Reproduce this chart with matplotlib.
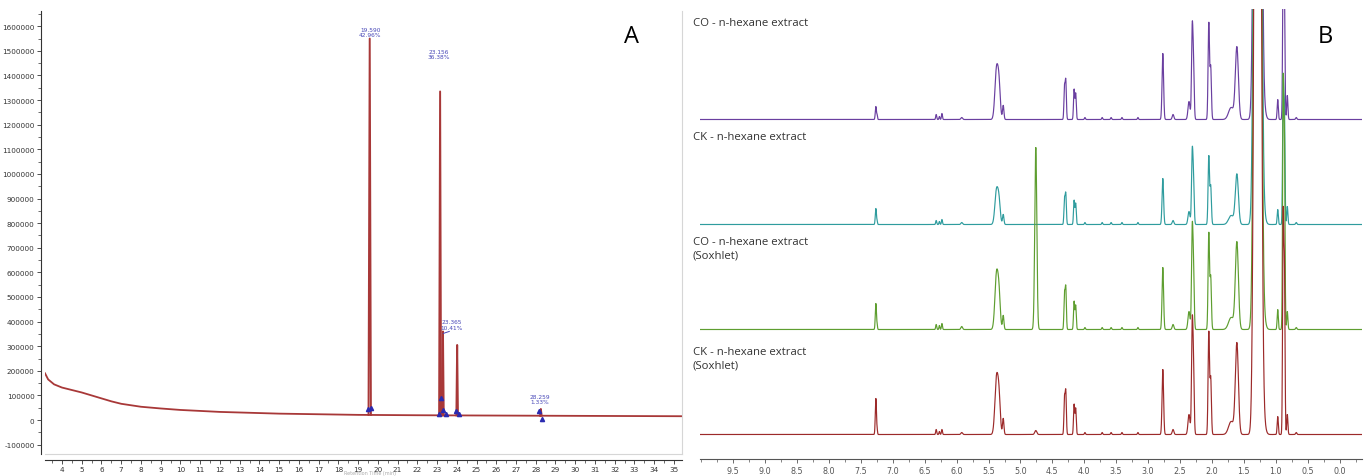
import numpy as np
import matplotlib
matplotlib.use("Agg")
import matplotlib.pyplot as plt
from matplotlib.ticker import MultipleLocator, FuncFormatter

# ---- Panel A : chromatogramme ----
baseline_rt = [3.14, 3.3, 3.6, 4.0, 4.5, 5.0, 5.5, 6.0, 6.5, 7.0, 8.0, 9.0, 10.0,
               12.0, 15.0, 19.0, 22.0, 25.0, 30.0, 35.41]
baseline_val = [190000, 165000, 145000, 132000, 122000, 112000, 100000, 88000, 76000,
                66000, 54000, 47000, 41000, 33000, 26000, 21000, 19500, 18500, 17000, 15500]

peak_rt = [19.59, 23.156, 23.24, 23.30, 24.02, 28.259]
peak_apex = [1550000, 1335000, 90000, 360000, 305000, 45000]
peak_base = [21000, 19500, 19500, 19500, 19000, 17500]
peak_hw = [0.06, 0.05, 0.04, 0.04, 0.04, 0.04]

marker_rt = [19.50, 19.66, 23.08, 23.20, 23.32, 23.45, 23.96, 24.10, 28.18, 28.32]
marker_val = [45000, 50000, 25000, 90000, 40000, 25000, 35000, 25000, 38000, 3000]

label_text = ["19.590\n42.96%", "23.156\n36.38%", "23.365\n10.41%", "28.259\n1.33%"]
label_rt = [19.62, 23.10, 23.76, 28.20]
label_val = [1555000, 1465000, 367000, 64000]

# ---- Panel B : spectres RMN 1H ----
ppm_pos = [7.265, 7.245, 6.32, 6.27, 6.23, 5.92, 5.375, 5.335, 5.27, 4.76,
           4.31, 4.29, 4.16, 4.135, 3.99, 3.72, 3.58, 3.41, 3.16,
           2.77, 2.61, 2.36, 2.31, 2.29, 2.05, 2.02, 1.70, 1.61,
           1.31, 1.26, 1.20, 0.97, 0.885, 0.865, 0.82, 0.68]
ppm_sigma = [0.009, 0.006, 0.008, 0.007, 0.008, 0.013, 0.025, 0.020, 0.011, 0.016,
             0.009, 0.009, 0.009, 0.009, 0.008, 0.008, 0.008, 0.008, 0.008,
             0.012, 0.013, 0.016, 0.011, 0.011, 0.011, 0.011, 0.040, 0.024,
             0.030, 0.030, 0.032, 0.009, 0.009, 0.009, 0.009, 0.010]

h_co = [13, 4, 5, 3, 6, 2, 50, 30, 14, 0,
        32, 38, 30, 26, 2, 2, 2, 2, 2,
        66, 5, 18, 86, 52, 96, 52, 12, 72,
        900, 900, 14, 20, 150, 120, 24, 2]
h_ck = [16, 3, 4, 3, 5, 2, 34, 20, 10, 0,
        25, 30, 24, 21, 2, 2, 2, 2, 2,
        46, 4, 13, 68, 42, 68, 38, 9, 50,
        900, 900, 12, 15, 140, 110, 18, 2]
h_co_sox = [26, 4, 5, 4, 6, 3, 55, 30, 14, 182,
            35, 41, 28, 24, 2, 2, 2, 2, 2,
            62, 5, 18, 94, 58, 96, 52, 12, 87,
            900, 900, 14, 20, 238, 180, 18, 2]
h_ck_sox = [36, 4, 5, 3, 5, 2, 56, 32, 16, 4,
            36, 42, 30, 26, 2, 2, 2, 2, 2,
            65, 5, 20, 104, 64, 102, 56, 13, 91,
            900, 900, 15, 18, 212, 160, 20, 2]

trace_labels = ["CO - n-hexane extract", "CK - n-hexane extract",
                "CO - n-hexane extract\n(Soxhlet)", "CK - n-hexane extract\n(Soxhlet)"]
trace_heights = [h_co, h_ck, h_co_sox, h_ck_sox]
trace_offsets = [339.5, 234.5, 129.5, 24.5]
trace_colors = ["#6a3fa0", "#2f9c9e", "#5e9e30", "#9c2a2a"]

W, H = 1370, 477
fig = plt.figure(figsize=(W / 100, H / 100), dpi=100)


def box(x0, y0, x1, y1):
    # rectangle en pixels (origine en haut a gauche) -> coordonnees figure
    return [x0 / W, 1 - y1 / H, (x1 - x0) / W, (y1 - y0) / H]


# ================= Panel A =================
ax1 = fig.add_axes(box(45, 12, 682, 455))
ax1.set_xlim(3.14, 35.41)
ax1.set_ylim(-138000, 1662000)

ax1.plot(baseline_rt, baseline_val, color="#a83838", lw=1.3, solid_joinstyle="round")
for rt, top, base, hw in zip(peak_rt, peak_apex, peak_base, peak_hw):
    ax1.plot([rt - hw, rt, rt + hw], [base, top, base], color="#a83838", lw=1.4)
ax1.plot(marker_rt, marker_val, ls="none", marker="^", ms=3, color="#2a2ab0")
for txt, rt, val in zip(label_text, label_rt, label_val):
    ax1.text(rt, val, txt, ha="center", va="bottom", fontsize=4.2,
             color="#4848b8", linespacing=1.1)
ax1.plot([23.32, 23.62], [352000, 360000], color="#4848b8", lw=0.7)

ax1.spines["top"].set_visible(False)
ax1.spines["right"].set_color("#d6d6d6")
ax1.spines["left"].set_position(("outward", 3))
ax1.spines["bottom"].set_position(("outward", 4))
ax1.spines["left"].set_color("#333333")
ax1.spines["bottom"].set_color("#333333")
ax1.plot([0, 1], [0, 0], transform=ax1.transAxes, color="#d6d6d6", lw=0.8, clip_on=False)

ax1.yaxis.set_major_locator(MultipleLocator(100000))
ax1.yaxis.set_minor_locator(MultipleLocator(50000))
ax1.yaxis.set_major_formatter(FuncFormatter(lambda v, p: "%d" % v))
ax1.xaxis.set_minor_locator(MultipleLocator(0.5))
ax1.set_xticks(range(4, 36))
ax1.tick_params(axis="both", which="major", labelsize=5.2, length=3, width=0.6,
                colors="#333333", pad=1.5)
ax1.tick_params(axis="both", which="minor", length=2, width=0.5, colors="#333333")
fig.text(370 / W, 1 - 474 / H, "Retention Time (min)", fontsize=3.5, color="#aaaaaa",
         ha="center", va="center")
fig.text(632 / W, 1 - 37 / H, "A", fontsize=17, ha="center", va="center",
         family="Open Sans")

# ================= Panel B =================
ax2 = fig.add_axes(box(700, 10, 1362, 460))
ppm = np.linspace(10.05, -0.40, 6000)
for heights, off, col in zip(trace_heights, trace_offsets, trace_colors):
    y = np.full_like(ppm, off)
    for p, s, h in zip(ppm_pos, ppm_sigma, heights):
        y += h * np.exp(-0.5 * ((ppm - p) / s) ** 2)
    ax2.plot(ppm, y, color=col, lw=0.85)

ax2.set_xlim(10.02, -0.35)
ax2.set_ylim(0, 450)
for s in ["top", "left", "right"]:
    ax2.spines[s].set_visible(False)
ax2.spines["bottom"].set_color("#555555")
ax2.set_yticks([])
ax2.set_xticks(np.arange(0, 10, 0.5))
ax2.xaxis.set_major_formatter(FuncFormatter(lambda v, p: "%.1f" % v))
ax2.xaxis.set_minor_locator(MultipleLocator(0.25))
ax2.tick_params(axis="x", which="major", labelsize=5.8, length=3, width=0.6,
                colors="#555555", pad=2)
ax2.tick_params(axis="x", which="minor", length=2.5, width=0.5, colors="#555555")

label_tops = [18, 132, 237, 347]
for txt, top in zip(trace_labels, label_tops):
    fig.text(693 / W, 1 - top / H, txt, fontsize=8.2, color="#333333", va="top",
             ha="left", family="Open Sans", linespacing=1.3)
fig.text(1325 / W, 1 - 37 / H, "B", fontsize=17, ha="center", va="center",
         family="Open Sans")

fig.savefig("out.png", dpi=100, facecolor="white")
